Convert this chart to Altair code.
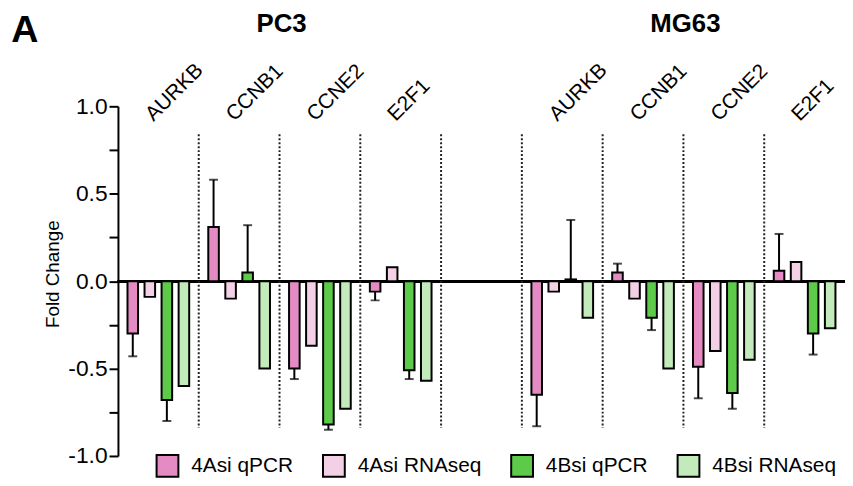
import altair as alt
import pandas as pd

# ---------------- data ----------------
SLOTS = ["PC3|AURKB", "PC3|CCNB1", "PC3|CCNE2", "PC3|E2F1", "gap",
         "MG63|AURKB", "MG63|CCNB1", "MG63|CCNE2", "MG63|E2F1"]
GENES = ["AURKB", "CCNB1", "CCNE2", "E2F1"]
CELL_LINES = ["PC3", "MG63"]
SERIES = ["4Asi qPCR", "4Asi RNAseq", "4Bsi qPCR", "4Bsi RNAseq"]
COLORS = ["#E48BC4", "#F3D0E6", "#5DCB49", "#C3EABB"]

# values per gene (AURKB, CCNB1, CCNE2, E2F1)
pc3_asi_qpcr = [-0.30, 0.31, -0.50, -0.06]
pc3_asi_rnaseq = [-0.09, -0.10, -0.37, 0.08]
pc3_bsi_qpcr = [-0.68, 0.05, -0.82, -0.51]
pc3_bsi_rnaseq = [-0.60, -0.50, -0.73, -0.57]
pc3_asi_qpcr_err = [0.13, 0.27, 0.06, 0.05]
pc3_bsi_qpcr_err = [0.12, 0.27, 0.03, 0.05]

mg63_asi_qpcr = [-0.65, 0.05, -0.49, 0.06]
mg63_asi_rnaseq = [-0.06, -0.10, -0.40, 0.11]
mg63_bsi_qpcr = [0.01, -0.21, -0.64, -0.30]
mg63_bsi_rnaseq = [-0.21, -0.50, -0.45, -0.27]
mg63_asi_qpcr_err = [0.18, 0.05, 0.18, 0.21]
mg63_bsi_qpcr_err = [0.34, 0.07, 0.09, 0.12]

Y_TICKS = [-1.0, -0.75, -0.5, -0.25, 0.0, 0.25, 0.5, 0.75, 1.0]
SEP_TOP, SEP_BOTTOM = 0.84, -0.84

# ---------------- tables ----------------
rows = []
table = {
    "PC3": [(pc3_asi_qpcr, pc3_asi_qpcr_err), (pc3_asi_rnaseq, None),
            (pc3_bsi_qpcr, pc3_bsi_qpcr_err), (pc3_bsi_rnaseq, None)],
    "MG63": [(mg63_asi_qpcr, mg63_asi_qpcr_err), (mg63_asi_rnaseq, None),
             (mg63_bsi_qpcr, mg63_bsi_qpcr_err), (mg63_bsi_rnaseq, None)],
}
for cl in CELL_LINES:
    for s, (vals, errs) in zip(SERIES, table[cl]):
        for i, g in enumerate(GENES):
            v = vals[i]
            e = errs[i] if errs is not None else None
            rows.append({
                "cat": f"{cl}|{g}", "series": s, "value": v,
                "end": (v + (e if v >= 0 else -e)) if e is not None else None,
            })
df = pd.DataFrame(rows)
err_df = df.dropna(subset=["end"])

labels_df = pd.DataFrame([{"cat": f"{cl}|{g}", "gene": g} for cl in CELL_LINES for g in GENES])
titles_df = pd.DataFrame([{"cat": f"{cl}|CCNE2", "name": cl} for cl in CELL_LINES])
sep_df = pd.DataFrame({"cat": SLOTS[1:]})

FONT = "Liberation Sans"

x_scale = alt.Scale(domain=SLOTS, paddingInner=0, paddingOuter=0)
xo_scale = alt.Scale(domain=SERIES, paddingInner=0.38, paddingOuter=0.56)
y_scale = alt.Scale(domain=[-1, 1], nice=False)

y_axis = alt.Axis(
    values=Y_TICKS,
    labelExpr="abs(datum.value*2 - round(datum.value*2)) < 0.001 ? replace(format(datum.value, '.1f'), '\u2212', '-') : ''",
    title="Fold Change", titleFontSize=19, titleFontWeight="normal", titleColor="black",
    titleAngle=270, titleAlign="center", titleBaseline="middle", titleX=-66, titleY=169,
    labelFontSize=23, labelColor="black", labelPadding=2,
    tickSize=9, tickWidth=2, tickColor="black",
    domainWidth=2, domainColor="black", grid=False,
)

zero = alt.Chart(df).mark_rule(color="black", strokeWidth=2).encode(y=alt.datum(0))

seps = alt.Chart(sep_df).mark_rule(color="#222222", strokeWidth=2, strokeDash=[2, 2]).encode(
    x=alt.X("cat:N", bandPosition=0, scale=x_scale, axis=None),
    y=alt.datum(SEP_TOP), y2=alt.datum(SEP_BOTTOM),
)

err_rule = alt.Chart(err_df).mark_rule(color="black", strokeWidth=2).encode(
    x=alt.X("cat:N", scale=x_scale, axis=None),
    xOffset=alt.XOffset("series:N", scale=xo_scale),
    y=alt.Y("value:Q", scale=y_scale, axis=y_axis),
    y2="end:Q",
)
err_cap = alt.Chart(err_df).mark_tick(color="black", thickness=2, size=9).encode(
    x=alt.X("cat:N", scale=x_scale, axis=None),
    xOffset=alt.XOffset("series:N", scale=xo_scale),
    y=alt.Y("end:Q", scale=y_scale),
)

bars = alt.Chart(df).mark_bar(stroke="black", strokeWidth=2, opacity=1).encode(
    x=alt.X("cat:N", scale=x_scale, axis=None),
    xOffset=alt.XOffset("series:N", scale=xo_scale),
    y=alt.Y("value:Q", scale=y_scale, axis=y_axis),
    fill=alt.Fill("series:N", scale=alt.Scale(domain=SERIES, range=COLORS),
                  legend=alt.Legend(orient="none", legendX=38, legendY=351, direction="horizontal",
                                    title=None, symbolType="square", symbolSize=484,
                                    symbolStrokeColor="black", symbolStrokeWidth=2, symbolOpacity=1,
                                    labelFontSize=21, labelOffset=12, labelColor="black",
                                    columnPadding=26, padding=0, labelLimit=0)),
)

gene_text = alt.Chart(labels_df).mark_text(
    angle=315, align="left", baseline="alphabetic", fontSize=21, dx=-7, color="black"
).encode(
    x=alt.X("cat:N", scale=x_scale, axis=None),
    y=alt.value(11),
    text="gene:N",
)

title_text = alt.Chart(titles_df).mark_text(
    align="center", baseline="middle", fontSize=26, fontWeight="bold", dx=2, color="black"
).encode(
    x=alt.X("cat:N", bandPosition=0, scale=x_scale, axis=None),
    y=alt.value(-83),
    text="name:N",
)

panel_letter = alt.Chart(pd.DataFrame({"t": ["A"]})).mark_text(
    align="center", baseline="middle", fontSize=38, fontWeight="bold", color="black"
).encode(x=alt.value(-94), y=alt.value(-76), text="t:N")

chart = alt.layer(zero, seps, err_rule, err_cap, bars, gene_text, title_text, panel_letter).properties(
    width=734, height=353,
    padding={"left": 111, "top": 97, "right": 0, "bottom": 21},
    autosize=alt.AutoSizeParams(type="none"),
).configure(font=FONT).configure_view(stroke=None)

chart.save("out.html", embed_options={"renderer": "svg", "actions": False})
